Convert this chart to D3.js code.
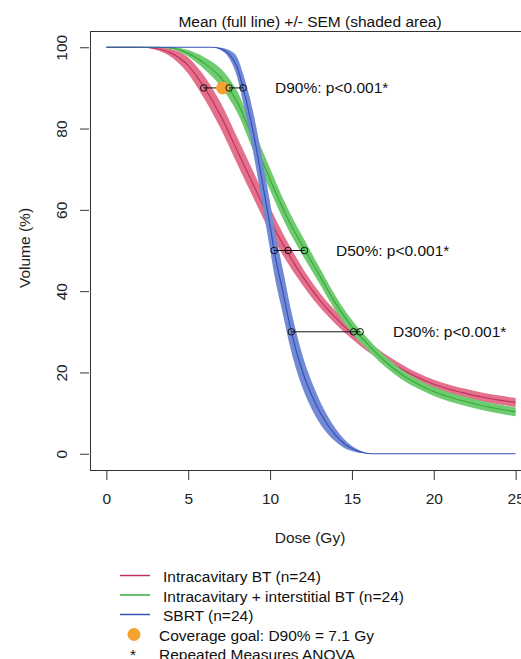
<!DOCTYPE html>
<html>
<head>
<meta charset="utf-8">
<script src="https://cdn.jsdelivr.net/npm/d3@7"></script>
<style>
  html, body { margin: 0; padding: 0; background: #fff; }
  svg { display: block; font-family: "Liberation Sans", Arial, sans-serif; }
</style>
</head>
<body>
<div id="chart"></div>
<script>
// dose grid (Gy) shared by the two brachytherapy curves
const doseGrid = [0, 1, 2, 3, 4, 5, 6, 7, 8, 9, 10, 11, 12, 13, 14, 15, 16, 17, 18, 19, 20, 21, 22, 23, 24, 25];

const icMean = [100, 100, 100, 99.7, 98.5, 95.5, 90, 83, 74.5, 66, 57.5, 50, 43.5, 38, 33.5, 29.6, 26.3, 23.4, 20.9, 18.8, 17.1, 15.8, 14.8, 13.9, 13.2, 12.6];
const icSem = [0, 0, 0, 0.3, 1, 2, 2.8, 3.2, 3.3, 3.2, 3, 2.6, 2.1, 1.8, 1.6, 1.4, 1.3, 1.2, 1.2, 1.1, 1.1, 1.1, 1.1, 1.1, 1.1, 1.1];

const isMean = [100, 100, 100, 100, 99.8, 98.5, 96, 92.5, 86.5, 77, 67.5, 58.5, 51, 44, 37, 31.3, 26.8, 22.8, 19.6, 17.2, 15.3, 13.9, 12.8, 11.8, 11.0, 10.3];
const isSem = [0, 0, 0, 0, 0.2, 0.8, 1.5, 2.2, 2.6, 2.7, 2.7, 2.5, 2.3, 2, 1.8, 1.6, 1.4, 1.3, 1.2, 1.1, 1.1, 1.1, 1.1, 1.1, 1.1, 1.1];

// SBRT has its own dose grid
const sbrtDose = [0, 6.5, 7, 7.5, 8, 8.35, 9, 9.5, 10, 10.25, 10.8, 11.3, 12, 12.7, 13.5, 14, 14.5, 15, 15.5, 16.2, 25];
const sbrtMean = [100, 100, 99.6, 98.3, 95, 90, 78.5, 67.5, 56, 50, 39.5, 30, 20, 13, 7.2, 4.6, 2.6, 1.3, 0.5, 0, 0];
const sbrtSem = [0, 0, 0.3, 1, 2.5, 3.5, 5, 5.5, 5.8, 5.8, 5.5, 5, 4, 3.2, 2.2, 1.6, 1.1, 0.6, 0.3, 0, 0];

const seriesNames = ['Intracavitary BT (n=24)', 'Intracavitary + interstitial BT (n=24)', 'SBRT (n=24)'];

// Dx% values per group (IC, IC+IS, SBRT)
const dLevels = [90, 50, 30];
const dDoses = [[5.95, 7.5, 8.35], [11.1, 12.1, 10.25], [15.1, 15.5, 11.3]];
const dLabels = ['D90%: p<0.001*', 'D50%: p<0.001*', 'D30%: p<0.001*'];
const coverageGoal = 7.1;

const xTicks = [0, 5, 10, 15, 20, 25];
const yTicks = [0, 20, 40, 60, 80, 100];

const W = 521, H = 659;
const FS = 15.5;
const svg = d3.select('#chart').append('svg').attr('width', W).attr('height', H);

const x = d3.scaleLinear().domain([-1, 26]).range([90, 532]);
const y = d3.scaleLinear().domain([-4, 104]).range([470, 31]);

const bandColors = ['#e3718b', '#6fcb70', '#7289d4'];
const lineColors = ['#c23060', '#3da83f', '#3352b8'];

const groups = [
  {dose: doseGrid, mean: icMean, sem: icSem},
  {dose: doseGrid, mean: isMean, sem: isSem},
  {dose: sbrtDose, mean: sbrtMean, sem: sbrtSem},
];

svg.append('clipPath').attr('id', 'clip')
  .append('rect').attr('x', 90).attr('y', 31).attr('width', 442).attr('height', 439);

const plot = svg.append('g').attr('clip-path', 'url(#clip)');

const area = d3.area()
  .x(d => x(d.dose))
  .y0(d => y(Math.max(0, d.mean - d.sem)))
  .y1(d => y(Math.min(100, d.mean + d.sem)))
  .curve(d3.curveMonotoneX);

const line = d3.line()
  .x(d => x(d.dose))
  .y(d => y(d.mean))
  .curve(d3.curveMonotoneX);

groups.forEach((g, i) => {
  const pts = g.dose.map((dose, j) => ({dose, mean: g.mean[j], sem: g.sem[j]}));
  plot.append('path').attr('d', area(pts)).attr('fill', bandColors[i]);
  plot.append('path').attr('d', line(pts)).attr('fill', 'none')
    .attr('stroke', lineColors[i]).attr('stroke-width', 1.2);
});

// Dx markers
const labelX = [275, 336, 393];
dLevels.forEach((lvl, k) => {
  const ds = dDoses[k];
  plot.append('line')
    .attr('x1', x(d3.min(ds))).attr('x2', x(d3.max(ds)))
    .attr('y1', y(lvl)).attr('y2', y(lvl))
    .attr('stroke', '#111').attr('stroke-width', 1);
  if (lvl === 90)
    plot.append('circle').attr('cx', x(coverageGoal)).attr('cy', y(lvl)).attr('r', 6.5)
      .attr('fill', '#f5a231');
  ds.forEach(d => {
    plot.append('circle').attr('cx', x(d)).attr('cy', y(lvl)).attr('r', 3.3)
      .attr('fill', 'none').attr('stroke', '#111').attr('stroke-width', 1);
  });
  svg.append('text')
    .attr('x', labelX[k])
    .attr('y', y(lvl)).attr('dy', '0.35em')
    .attr('font-size', FS).attr('fill', '#111')
    .text(dLabels[k]);
});

// box
svg.append('rect').attr('x', 90.5).attr('y', 31.5).attr('width', 442).attr('height', 439)
  .attr('fill', 'none').attr('stroke', '#333').attr('stroke-width', 1);

// axes (R style)
const xAxis = svg.append('g').attr('transform', 'translate(0,471)')
  .call(d3.axisBottom(x).tickValues(xTicks).tickSize(9).tickPadding(13));
xAxis.select('.domain').remove();
xAxis.selectAll('text').attr('font-size', FS).attr('fill', '#222').attr('font-family', null);
xAxis.selectAll('line').attr('stroke', '#333');

const yAxis = svg.append('g').attr('transform', 'translate(89,0)')
  .call(d3.axisLeft(y).tickValues(yTicks).tickSize(9).tickPadding(0));
yAxis.select('.domain').remove();
yAxis.selectAll('line').attr('stroke', '#333');
yAxis.selectAll('text')
  .attr('font-size', FS).attr('fill', '#222').attr('font-family', null)
  .attr('x', null).attr('dy', null)
  .attr('text-anchor', 'middle')
  .attr('transform', 'translate(-27,0) rotate(-90)')
  .attr('dy', '0.35em');

svg.append('text').attr('x', 310).attr('y', 22).attr('dy', '0.35em').attr('text-anchor', 'middle')
  .attr('font-size', FS).attr('fill', '#111')
  .text('Mean (full line) +/- SEM (shaded area)');

svg.append('text').attr('x', 310).attr('y', 538).attr('dy', '0.35em').attr('text-anchor', 'middle')
  .attr('font-size', FS).attr('fill', '#222').text('Dose (Gy)');

svg.append('text').attr('transform', 'translate(25,248) rotate(-90)').attr('text-anchor', 'middle')
  .attr('dy', '0.35em').attr('font-size', FS).attr('fill', '#222').text('Volume (%)');

// legend
const legend = svg.append('g');
const rowY = [577, 596.5, 616, 635.5, 655];
seriesNames.forEach((name, i) => {
  legend.append('line').attr('x1', 120).attr('x2', 150)
    .attr('y1', rowY[i] - 1.5).attr('y2', rowY[i] - 1.5)
    .attr('stroke', lineColors[i]).attr('stroke-width', 1.5);
  legend.append('text').attr('x', 163).attr('y', rowY[i]).attr('dy', '0.35em')
    .attr('font-size', FS).attr('fill', '#111').text(name);
});
legend.append('circle').attr('cx', 134).attr('cy', rowY[3] - 1).attr('r', 6.5).attr('fill', '#f5a231');
legend.append('text').attr('x', 159).attr('y', rowY[3]).attr('dy', '0.35em')
  .attr('font-size', FS).attr('fill', '#111').text('Coverage goal: D90% = 7.1 Gy');
legend.append('text').attr('x', 133).attr('y', rowY[4]).attr('dy', '0.35em').attr('text-anchor', 'middle')
  .attr('font-size', FS).attr('fill', '#111').text('*');
legend.append('text').attr('x', 159).attr('y', rowY[4]).attr('dy', '0.35em')
  .attr('font-size', FS).attr('fill', '#111').text('Repeated Measures ANOVA');
</script>
</body>
</html>
